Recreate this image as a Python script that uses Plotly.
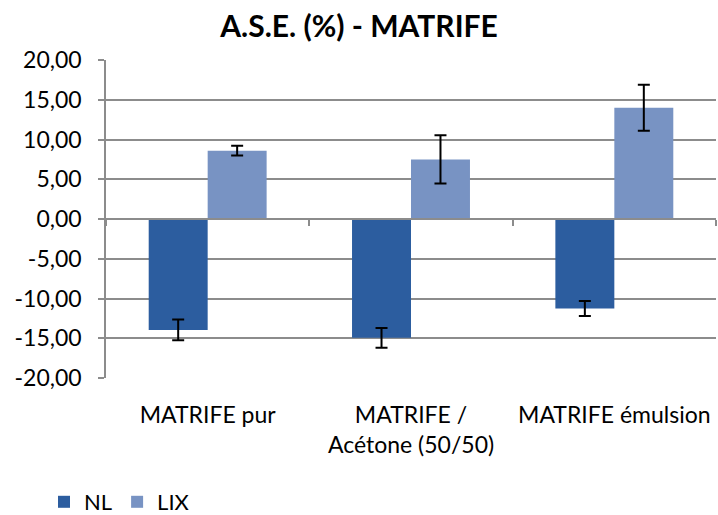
import plotly.graph_objects as go

# Categories and measured A.S.E. values (%) with their standard deviations
categories = ["MATRIFE pur", "MATRIFE /<br>Acétone (50/50)", "MATRIFE émulsion"]
nl_values = [-13.95, -14.95, -11.25]
nl_errors = [1.3, 1.25, 0.95]
lix_values = [8.6, 7.5, 14.0]
lix_errors = [0.6, 3.05, 2.9]
y_ticks = [-20, -15, -10, -5, 0, 5, 10, 15, 20]
y_tick_labels = ["-20,00", "-15,00", "-10,00", "-5,00", "0,00", "5,00", "10,00", "15,00", "20,00"]

FONT = "Lato"
GRID = "#8c8c8c"

fig = go.Figure()
fig.add_trace(go.Bar(
    name="NL", x=categories, y=nl_values,
    marker=dict(color="#2c5d9f", line=dict(width=0)),
    error_y=dict(type="data", array=nl_errors, color="black", thickness=2, width=6),
))
fig.add_trace(go.Bar(
    name="LIX", x=categories, y=lix_values,
    marker=dict(color="#7893c3", line=dict(width=0)),
    error_y=dict(type="data", array=lix_errors, color="black", thickness=2, width=6),
))

# Horizontal axis line at zero with ticks between categories
fig.add_trace(go.Scatter(x=categories, y=[None] * 3, xaxis="x2", showlegend=False, hoverinfo="skip"))

fig.update_layout(
    width=718, height=515,
    margin=dict(l=106, r=2, t=60, b=137),
    paper_bgcolor="white", plot_bgcolor="white",
    font=dict(family=FONT, size=23, color="black"),
    title=dict(text="<b>A.S.E. (%) - MATRIFE</b>", x=0.5, xanchor="center",
               y=1 - 26 / 515, yanchor="middle", font=dict(family=FONT, size=30)),
    barmode="group", bargap=0.42, bargroupgap=0,
    showlegend=True,
    legend=dict(orientation="h", xref="container", yref="container",
                x=44 / 718, y=1 - 502 / 515, xanchor="left", yanchor="middle",
                font=dict(family=FONT, size=22), itemwidth=30,
                bgcolor="rgba(0,0,0,0)"),
    xaxis=dict(showline=False, showgrid=False, zeroline=False,
               ticks="outside", ticklen=16, tickcolor="rgba(0,0,0,0)",
               tickfont=dict(family=FONT, size=23)),
    xaxis2=dict(overlaying="x", anchor="free", position=0.5, side="bottom",
                matches="x", showline=True, linecolor=GRID, linewidth=1.5,
                ticks="outside", tickson="boundaries", ticklen=6, tickcolor=GRID,
                tickwidth=1.5, showticklabels=False, showgrid=False, zeroline=False),
    yaxis=dict(range=[-20, 20], tickvals=y_ticks, ticktext=y_tick_labels,
               showline=True, linecolor=GRID, linewidth=1.5,
               ticks="outside", ticklen=6, tickcolor=GRID, tickwidth=1.5,
               ticklabelstandoff=12,
               showgrid=True, gridcolor=GRID, gridwidth=1.5, zeroline=False,
               tickfont=dict(family=FONT, size=23)),
)

fig.write_html("out.html")
